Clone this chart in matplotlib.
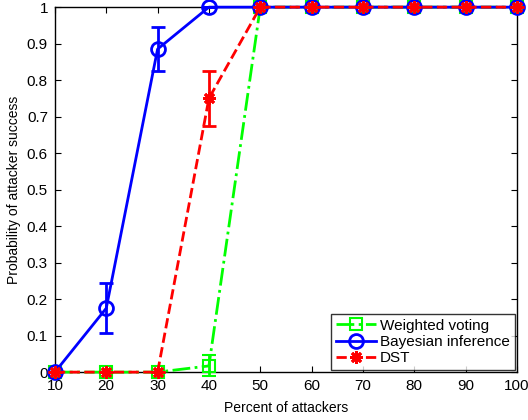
import matplotlib
matplotlib.use("Agg")
import matplotlib.pyplot as plt
from matplotlib.lines import Line2D

plt.rcParams['font.family'] = ['Liberation Sans', 'DejaVu Sans']

attackers = [10, 20, 30, 40, 50, 60, 70, 80, 90, 100]

weighted = [0, 0, 0, 0.017, 1, 1, 1, 1, 1, 1]
weighted_err = [0, 0, 0, 0.029, 0, 0, 0, 0, 0, 0]

bayes = [0, 0.175, 0.885, 1, 1, 1, 1, 1, 1, 1]
bayes_err = [0, 0.069, 0.06, 0, 0, 0, 0, 0, 0, 0]

dst = [0, 0, 0, 0.75, 1, 1, 1, 1, 1, 1]
dst_err = [0, 0, 0, 0.075, 0, 0, 0, 0, 0, 0]

labels = ['Weighted voting', 'Bayesian inference', 'DST']

fig = plt.figure(figsize=(5.28, 4.20), dpi=100)
ax = fig.add_axes([0.104, 0.114, 0.875, 0.869])

styles = [
    dict(color=(0, 1, 0), ls='-.', marker='s', ms=8, mfc='none', mew=1.5),
    dict(color=(0, 0, 1), ls='-', marker='o', ms=10, mfc='none', mew=2),
    dict(color=(1, 0, 0), ls='--', marker=(8, 2, 0), ms=9, mew=2),
]
series = [(weighted, weighted_err), (bayes, bayes_err), (dst, dst_err)]

handles = []
for i, ((vals, err), st) in enumerate(zip(series, styles)):
    ax.errorbar(attackers, vals, yerr=err, lw=2, capsize=5, capthick=2,
                elinewidth=2, clip_on=False, zorder=3 + i, **st)
    handles.append(Line2D([], [], lw=2, **st))

ax.set_xlim(10, 100)
ax.set_ylim(0, 1)
ax.set_xticks(attackers)
ax.set_yticks([i / 10 for i in range(11)])
ax.set_yticklabels(['0', '0.1', '0.2', '0.3', '0.4', '0.5', '0.6', '0.7',
                    '0.8', '0.9', '1'])
ax.tick_params(direction='in', top=True, right=True, labelsize=11, length=4,
               width=0.8, pad=5)
for s in ax.spines.values():
    s.set_linewidth(1)

ax.set_xlabel('Percent of attackers', fontsize=10, labelpad=6)
ax.set_ylabel('Probability of attacker success', fontsize=10, labelpad=4)

leg = ax.legend(handles, labels, loc='lower right', fontsize=11, frameon=True,
                fancybox=False, edgecolor='black', handlelength=2.6,
                borderpad=0.3, labelspacing=0.15, handletextpad=0.3,
                borderaxespad=0.15)
leg.get_frame().set_linewidth(1)

fig.savefig('out.png', dpi=100)
